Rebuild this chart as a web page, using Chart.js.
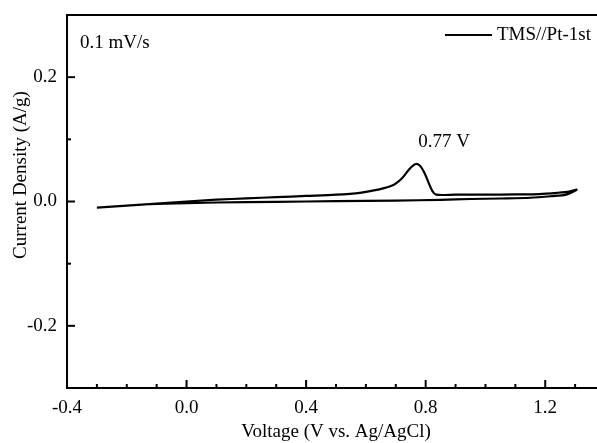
<!DOCTYPE html>
<html>
<head>
<meta charset="utf-8">
<script src="https://cdn.jsdelivr.net/npm/chart.js@4.4.1/dist/chart.umd.min.js"></script>
<style>
  html, body { margin: 0; padding: 0; background: #fff; overflow: hidden; }
  #wrap { width: 606px; height: 443px; }
</style>
</head>
<body>
<div id="wrap"><canvas id="chart" width="606" height="443"></canvas></div>
<script>
// CV loop, forward scan then reverse scan
var voltage = [-0.30, -0.20, -0.10, 0.00, 0.10, 0.20, 0.30, 0.40, 0.50, 0.58, 0.64, 0.69, 0.72, 0.745, 0.765, 0.78, 0.795, 0.81, 0.822, 0.835, 0.90, 1.00, 1.10, 1.18, 1.24, 1.28, 1.305,
               1.27, 1.22, 1.15, 1.05, 0.95, 0.85, 0.70, 0.50, 0.30, 0.10, -0.10, -0.20, -0.30];
var current = [-0.010, -0.0067, -0.0034, 0.000, 0.003, 0.005, 0.007, 0.009, 0.011, 0.014, 0.019, 0.026, 0.037, 0.052, 0.060, 0.058, 0.047, 0.030, 0.017, 0.011, 0.011, 0.011, 0.0115, 0.012, 0.014, 0.016, 0.019,
               0.011, 0.0085, 0.006, 0.0048, 0.004, 0.0026, 0.0015, 0.0005, -0.0005, -0.0016, -0.004, -0.0065, -0.010];
var seriesName = 'TMS//Pt-1st';
var xTicks = [-0.4, 0.0, 0.4, 0.8, 1.2];
var yTicks = [-0.2, 0.0, 0.2];

var FONT = '"Liberation Serif", "Times New Roman", serif';

var points = voltage.map(function (v, i) { return { x: v, y: current[i] }; });

var decor = {
    id: 'decor',
    afterDraw: function (chart) {
        var ctx = chart.ctx;
        var a = chart.chartArea;
        var xs = chart.scales.x, ys = chart.scales.y;
        ctx.save();
        ctx.strokeStyle = '#000';
        ctx.lineWidth = 2;
        // frame
        ctx.strokeRect(a.left, a.top, a.right - a.left, a.bottom - a.top);
        // inward ticks
        var v, p, major;
        for (var k = -4; k <= 14; k++) {
            v = k / 10;
            p = xs.getPixelForValue(v);
            major = (k % 4 === 0);
            ctx.beginPath();
            ctx.moveTo(p, a.bottom);
            ctx.lineTo(p, a.bottom - (major ? 8 : 4));
            ctx.stroke();
        }
        for (k = -3; k <= 3; k++) {
            v = k / 10;
            p = ys.getPixelForValue(v);
            major = (k % 2 === 0);
            ctx.beginPath();
            ctx.moveTo(a.left, p);
            ctx.lineTo(a.left + (major ? 8 : 4), p);
            ctx.stroke();
        }
        ctx.fillStyle = '#000';
        ctx.font = '19px ' + FONT;
        // scan rate
        ctx.textAlign = 'left';
        ctx.textBaseline = 'middle';
        ctx.fillText('0.1 mV/s', a.left + 13, a.top + 28);
        // peak label
        ctx.textAlign = 'center';
        ctx.fillText('0.77 V', xs.getPixelForValue(0.862), ys.getPixelForValue(0.095));
        // legend
        ctx.beginPath();
        ctx.moveTo(445, 35);
        ctx.lineTo(492, 35);
        ctx.stroke();
        ctx.textAlign = 'left';
        ctx.fillText(seriesName, 497, 35);
        // y title
        ctx.translate(21, 175);
        ctx.rotate(-Math.PI / 2);
        ctx.textAlign = 'center';
        ctx.fillText('Current Density (A/g)', 0, 0);
        ctx.restore();
    }
};

new Chart(document.getElementById('chart'), {
    type: 'scatter',
    data: {
        datasets: [{
            label: seriesName,
            data: points,
            showLine: true,
            borderColor: '#000',
            borderWidth: 2.2,
            pointRadius: 0,
            tension: 0.3,
            fill: false
        }]
    },
    options: {
        responsive: false,
        animation: false,
        layout: { padding: { top: 15, right: 1, left: 0, bottom: 0 } },
        plugins: { legend: { display: false }, tooltip: { enabled: false } },
        scales: {
            x: {
                type: 'linear',
                min: -0.4,
                max: 1.4,
                afterFit: function (s) { s.height = 55; s.paddingLeft = 0; s.paddingRight = 0; },
                afterBuildTicks: function (s) { s.ticks = xTicks.map(function (t) { return { value: t }; }); },
                grid: { display: false, drawTicks: false },
                border: { display: true, color: '#000', width: 2 },
                ticks: {
                    padding: 9,
                    color: '#000',
                    font: { family: FONT, size: 19 },
                    callback: function (v) { return v.toFixed(1); }
                },
                title: {
                    display: true,
                    text: 'Voltage (V vs. Ag/AgCl)',
                    color: '#000',
                    font: { family: FONT, size: 19 },
                    padding: { top: 2, bottom: 0 }
                }
            },
            y: {
                type: 'linear',
                min: -0.3,
                max: 0.3,
                afterFit: function (s) { s.width = 67; s.paddingTop = 0; s.paddingBottom = 0; },
                afterBuildTicks: function (s) { s.ticks = yTicks.map(function (t) { return { value: t }; }); },
                grid: { display: false, drawTicks: false },
                border: { display: true, color: '#000', width: 2 },
                ticks: {
                    padding: 10,
                    color: '#000',
                    font: { family: FONT, size: 19 },
                    callback: function (v) { return v.toFixed(1); }
                }
            }
        }
    },
    plugins: [decor]
});
</script>
</body>
</html>
